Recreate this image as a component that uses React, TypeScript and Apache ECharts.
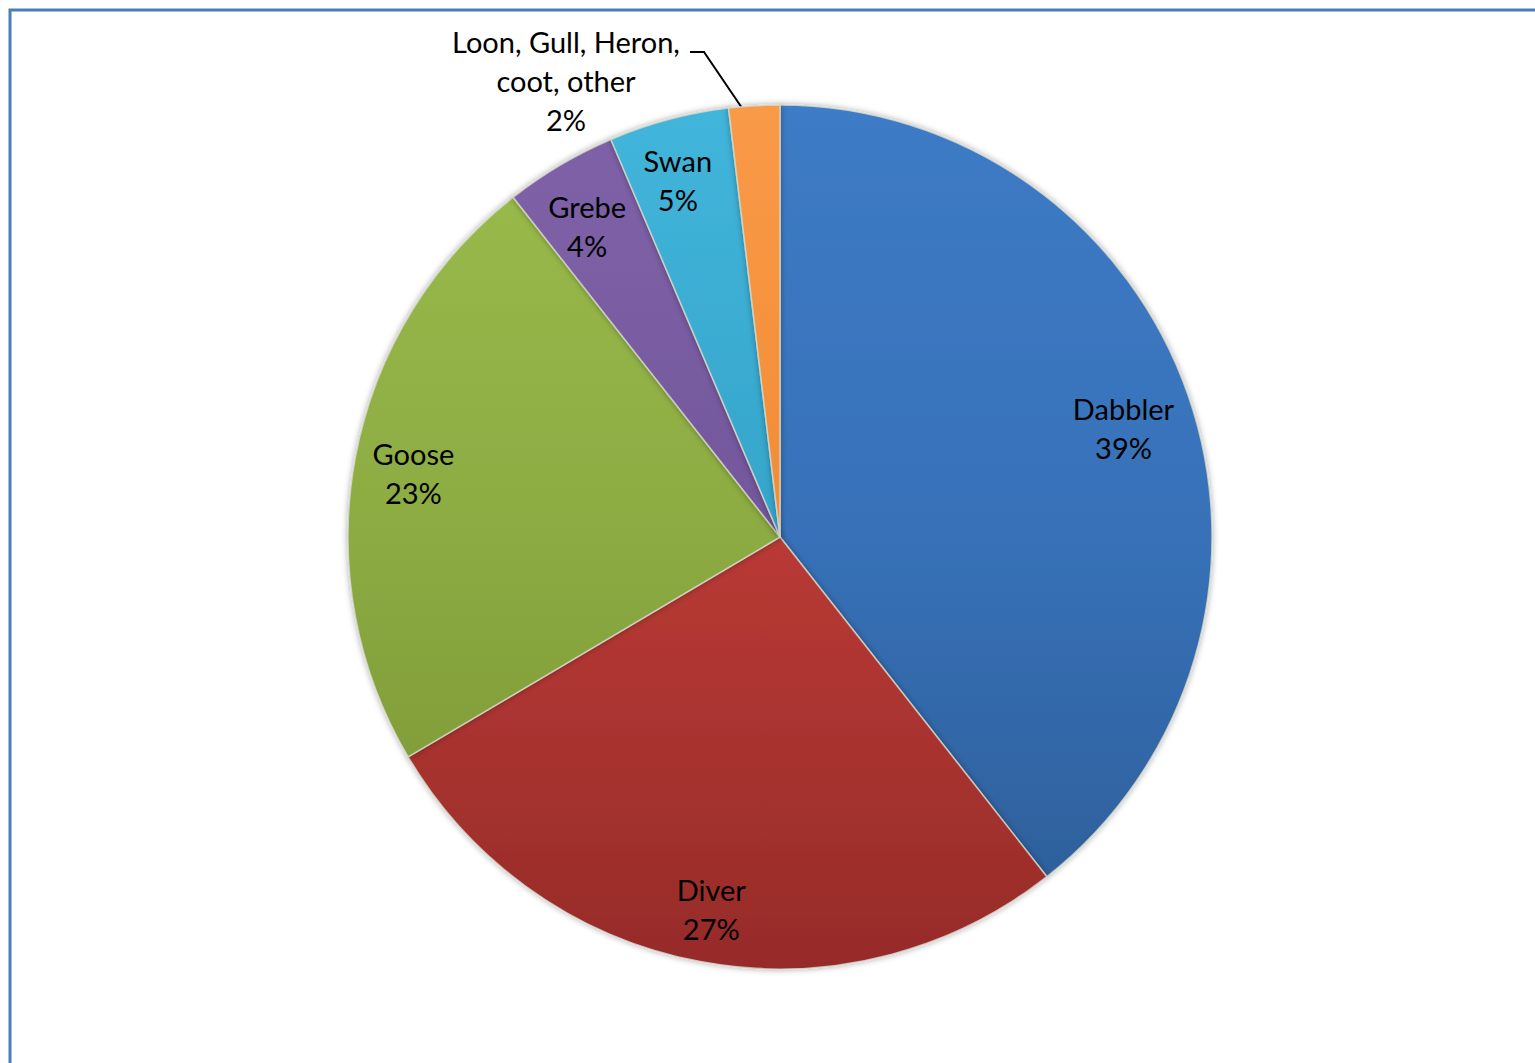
import React, { useEffect, useRef } from "react";
import * as echarts from "echarts";

const categories = ["Dabbler", "Diver", "Goose", "Grebe", "Swan", "Loon, Gull, Heron,\ncoot, other"];
const values = [39.4, 27.1, 22.9, 4.2, 4.5, 1.9];
const topColors = ["#3D7BC6", "#C9433C", "#9CBC4C", "#8062A9", "#42B5DB", "#F99A48"];
const midColors = ["#3771B8", "#B93A35", "#8CAB42", "#73579B", "#35A5CA", "#F28C35"];
const bottomColors = ["#2C5C95", "#962B29", "#789232", "#644A89", "#2B92B4", "#E67E22"];

const CX = 780;
const CY = 537;
const R = 432;

export default function App() {
  const ref = useRef<HTMLDivElement>(null);

  useEffect(() => {
    document.body.style.margin = "0";
    const chart = echarts.init(ref.current!, undefined, { renderer: "svg" });

    const grad = (i: number) =>
      new echarts.graphic.LinearGradient(
        0,
        CY - R,
        0,
        CY + R,
        [
          { offset: 0, color: topColors[i] },
          { offset: 0.49, color: midColors[i] },
          { offset: 0.5, color: midColors[i] },
          { offset: 1, color: bottomColors[i] },
        ],
        true
      );

    const last = categories.length - 1;

    const mainData = categories.map((name, i) => ({
      name,
      value: values[i],
      itemStyle: { color: grad(i) },
      label:
        i === last
          ? {
              show: true,
              position: "outside",
              formatter: "{b}\n{d}%",
              fontFamily: "Lato",
              fontSize: 29,
              lineHeight: 39,
              color: "#000",
              align: "center",
            }
          : { show: false },
      labelLine:
        i === last
          ? { show: true, lineStyle: { color: "#000", width: 2 } }
          : { show: false },
    }));

    const labelData = categories.map((name, i) => ({
      name,
      value: values[i],
      label: {
        show: i !== last,
        offset: i === 0 ? [-9, 13] : i === 3 ? [-3, 10] : i === 4 ? [-6, 3] : [0, 5],
      },
    }));

    chart.setOption({
      animation: false,
      backgroundColor: "#ffffff",
      graphic: [
        {
          type: "rect",
          shape: { x: 10, y: 10, width: 1700, height: 1200 },
          style: { fill: "none", stroke: "#4A7EBB", lineWidth: 3 },
          silent: true,
        },
      ],
      series: [
        {
          type: "pie",
          center: [CX, CY],
          radius: [0, R],
          startAngle: 90,
          clockwise: true,
          percentPrecision: 0,
          data: mainData,
          itemStyle: {
            borderColor: "rgba(215,218,205,0.8)",
            borderWidth: 1.5,
            shadowBlur: 6,
            shadowColor: "rgba(0,0,0,0.35)",
          },
          emphasis: { disabled: true },
          labelLayout: (p: any) => {
            if (p.dataIndex !== last) return {};
            return {
              x: 566,
              y: 80,
              align: "center",
              verticalAlign: "middle",
              labelLinePoints: [
                [742, 108],
                [704, 52],
                [690, 52],
              ],
            };
          },
        },
        {
          type: "pie",
          center: [CX, CY],
          radius: [308, R],
          startAngle: 90,
          clockwise: true,
          percentPrecision: 0,
          silent: true,
          z: 3,
          data: labelData,
          itemStyle: { color: "rgba(0,0,0,0)", borderWidth: 0 },
          label: {
            position: "inside",
            formatter: "{b}\n{d}%",
            fontFamily: "Lato",
            fontSize: 29,
            lineHeight: 39,
            color: "#000",
          },
          labelLine: { show: false },
          emphasis: { disabled: true },
        },
      ],
    });

    return () => chart.dispose();
  }, []);

  return (
    <div
      ref={ref}
      style={{ position: "fixed", left: 0, top: 0, width: 1535, height: 1063 }}
    />
  );
}
